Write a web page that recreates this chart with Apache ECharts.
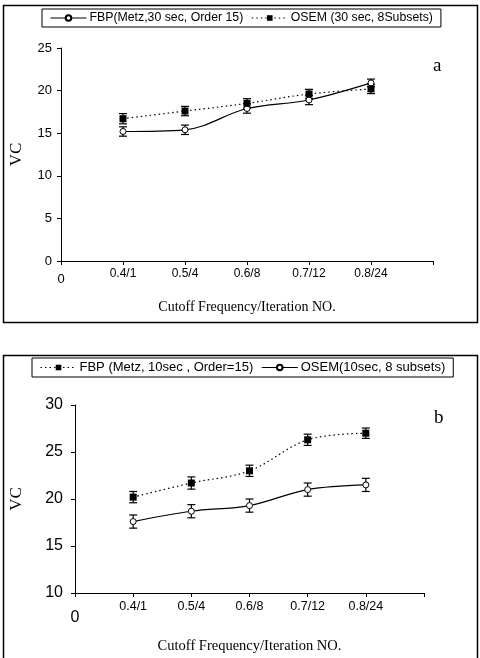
<!DOCTYPE html>
<html>
<head>
<meta charset="utf-8">
<script src="https://cdn.jsdelivr.net/npm/echarts@6/dist/echarts.min.js"></script>
<style>
  html, body { margin: 0; padding: 0; background: #fff; }
  #chart { width: 480px; height: 658px; }
</style>
</head>
<body>
<div id="chart"></div>
<script>
// x categories (plotted at 1..5 on a 0..6 value axis, like the Excel original)
const cats = ['0.4/1', '0.5/4', '0.6/8', '0.7/12', '0.8/24'];

// panel a
const fbpA = [15.2, 15.4, 17.9, 18.9, 20.9];
const fbpAErr = [0.55, 0.55, 0.55, 0.55, 0.45];
const osemA = [16.7, 17.6, 18.5, 19.6, 20.2];
const osemAErr = [0.6, 0.55, 0.55, 0.55, 0.55];

// panel b
const fbpB = [20.2, 21.7, 23.0, 26.3, 27.0];
const fbpBErr = [0.6, 0.65, 0.6, 0.6, 0.55];
const osemB = [17.6, 18.7, 19.3, 21.0, 21.5];
const osemBErr = [0.7, 0.7, 0.7, 0.7, 0.7];

const sans = 'Liberation Sans';
const serif = 'Liberation Serif';

const pts = v => v.map((y, i) => [i + 1, y]);
const errPts = (v, e) => v.map((y, i) => [i + 1, y - e[i], y + e[i]]);

const renderErr = (params, api) => {
  const x = api.value(0);
  const lo = api.coord([x, api.value(1)]);
  const hi = api.coord([x, api.value(2)]);
  const w = 4;
  const st = { stroke: '#000', lineWidth: 1.2 };
  return {
    type: 'group',
    children: [
      { type: 'line', shape: { x1: lo[0], y1: lo[1], x2: hi[0], y2: hi[1] }, style: st },
      { type: 'line', shape: { x1: lo[0] - w, y1: lo[1], x2: lo[0] + w, y2: lo[1] }, style: st },
      { type: 'line', shape: { x1: hi[0] - w, y1: hi[1], x2: hi[0] + w, y2: hi[1] }, style: st }
    ]
  };
};

const solidCircle = (name, data, idx) => ({
  name, type: 'line', xAxisIndex: idx, yAxisIndex: idx, z: 3,
  data, smooth: 0.35,
  symbol: 'circle', symbolSize: 6,
  lineStyle: { color: '#000', width: 1.2, type: 'solid' },
  itemStyle: { color: '#fff', borderColor: '#000', borderWidth: 1 }
});
const dottedSquare = (name, data, idx) => ({
  name, type: 'line', xAxisIndex: idx, yAxisIndex: idx, z: 3,
  data, smooth: 0.35,
  symbol: 'rect', symbolSize: 7,
  lineStyle: { color: '#000', width: 1.2, type: [1.5, 3] },
  itemStyle: { color: '#000', borderColor: '#000', borderWidth: 0 }
});
const errSeries = (data, idx) => ({
  type: 'custom', xAxisIndex: idx, yAxisIndex: idx, z: 1,
  renderItem: renderErr, data, silent: true
});

const xAxisBase = (labelSize, zeroSize, zeroPad, nameSize, nameGap) => ({
  type: 'value', min: 0, max: 6, interval: 1,
  name: 'Cutoff Frequency/Iteration NO.',
  nameLocation: 'middle', nameGap,
  nameTextStyle: { fontFamily: serif, fontSize: nameSize, color: '#000' },
  axisLine: { lineStyle: { color: '#000', width: 1 } },
  axisTick: { length: 4, lineStyle: { color: '#000' } },
  axisLabel: {
    color: '#000', fontFamily: sans, fontSize: labelSize, margin: 7,
    formatter: v => v === 0 ? '{z|0}' : (cats[v - 1] || ''),
    rich: { z: { fontFamily: sans, fontSize: zeroSize, color: '#000', padding: [zeroPad, 0, 0, 0] } }
  },
  splitLine: { show: false }
});

const yAxisBase = (min, max, labelSize, margin, nameGap) => ({
  type: 'value', min, max, interval: 5,
  name: 'VC', nameLocation: 'middle', nameGap, nameRotate: 90,
  nameTextStyle: { fontFamily: serif, fontSize: 17, color: '#000' },
  axisLine: { show: true, lineStyle: { color: '#000', width: 1 } },
  axisTick: { show: true, length: 4, lineStyle: { color: '#000' } },
  axisLabel: { color: '#000', fontFamily: sans, fontSize: labelSize, margin },
  splitLine: { show: false }
});

const legendBase = (left, top, names, size) => ({
  left, top, data: names,
  orient: 'horizontal',
  itemWidth: 36, itemHeight: 7, itemGap: 8,
  padding: [3, 8, 3, 8],
  borderColor: '#000', borderWidth: 1,
  lineStyle: { width: 1 },
  textStyle: { fontFamily: sans, fontSize: size, color: '#000', padding: [0, 0, 0, -2] }
});

const nameFbpA = 'FBP(Metz,30 sec, Order 15)';
const nameOsemA = 'OSEM (30 sec, 8Subsets)';
const nameFbpB = 'FBP (Metz, 10sec , Order=15)';
const nameOsemB = 'OSEM(10sec, 8 subsets)';

const chart = echarts.init(document.getElementById('chart'), null, { renderer: 'canvas' });

chart.setOption({
  animation: false,
  backgroundColor: '#fff',
  grid: [
    { left: 58, top: 48, right: 47, bottom: 397 },
    { left: 68, top: 405, right: 56, bottom: 65 }
  ],
  xAxis: [
    Object.assign(xAxisBase(12, 13, 5, 14, 39), { gridIndex: 0 }),
    Object.assign(xAxisBase(12.5, 16, 10, 14.5, 46), { gridIndex: 1 })
  ],
  yAxis: [
    Object.assign(yAxisBase(0, 25, 13, 9, 36), { gridIndex: 0 }),
    Object.assign(yAxisBase(10, 30, 16, 12, 50), { gridIndex: 1 })
  ],
  legend: [
    legendBase(42, 9, [nameFbpA, nameOsemA], 12.3),
    legendBase(32, 358, [nameFbpB, nameOsemB], 13)
  ],
  graphic: [
    { type: 'rect', shape: { x: 3.5, y: 5.5, width: 474, height: 317 },
      style: { fill: 'none', stroke: '#000', lineWidth: 1.5 }, silent: true },
    { type: 'rect', shape: { x: 3.5, y: 355.5, width: 474, height: 320 },
      style: { fill: 'none', stroke: '#000', lineWidth: 1.5 }, silent: true },
    { type: 'text', left: 433, top: 57,
      style: { text: 'a', font: '19px "Liberation Serif"', fill: '#000' } },
    { type: 'text', left: 434, top: 409,
      style: { text: 'b', font: '19px "Liberation Serif"', fill: '#000' } }
  ],
  series: [
    errSeries(errPts(fbpA, fbpAErr), 0),
    errSeries(errPts(osemA, osemAErr), 0),
    solidCircle(nameFbpA, pts(fbpA), 0),
    dottedSquare(nameOsemA, pts(osemA), 0),
    errSeries(errPts(fbpB, fbpBErr), 1),
    errSeries(errPts(osemB, osemBErr), 1),
    dottedSquare(nameFbpB, pts(fbpB), 1),
    solidCircle(nameOsemB, pts(osemB), 1)
  ]
});

window.addEventListener('resize', () => chart.resize());
</script>
</body>
</html>
